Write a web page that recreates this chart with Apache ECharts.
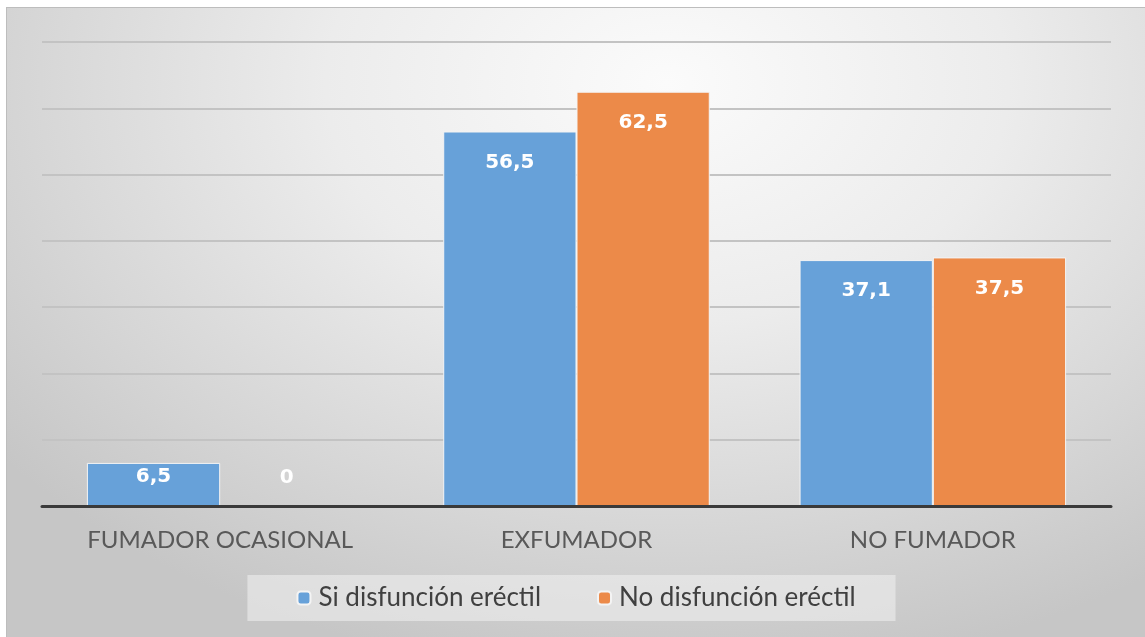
<!DOCTYPE html>
<html>
<head>
<meta charset="utf-8">
<script src="https://cdn.jsdelivr.net/npm/echarts@6/dist/echarts.min.js"></script>
<style>
  html, body { margin: 0; padding: 0; background: #fff; }
  #chart {
    position: absolute; left: 6px; top: 7px; width: 1139px; height: 630px;
    border-top: 1px solid #bdbdbd; border-left: 1px solid #bdbdbd;
    box-sizing: border-box;
    background: radial-gradient(ellipse 75% 95% at 58% 12%, #fbfbfb 0%, #ececec 40%, #d6d6d6 75%, #c6c6c6 100%);
  }
</style>
</head>
<body>
<div id="chart"></div>
<script>
// datos
const categorias = ['FUMADOR OCASIONAL', 'EXFUMADOR', 'NO FUMADOR']
const siDisfuncion = [6.5, 56.5, 37.1]
const noDisfuncion = [0, 62.5, 37.5]
const nombres = ['Si disfunción eréctil', 'No disfunción eréctil']
const colores = ['#67a1d9', '#ec8a49']

const fuente = 'Lato, "Open Sans", sans-serif'

// etiqueta dentro de la barra; barras bajas más arriba
const etiqueta = {
  show: true,
  position: 'insideTop',
  distance: 21,
  color: '#fff',
  fontWeight: 'bold',
  fontSize: 20,
  fontFamily: '"DejaVu Sans", sans-serif',
  formatter: p => String(p.value).replace('.', ',')
}

const armarDatos = valores => valores.map(v => {
  if (v === 0) return { value: v, itemStyle: { borderWidth: 0 }, label: { position: 'insideBottom', distance: 18 } }
  if (v < 10) return { value: v, label: { position: 'insideTop', distance: 4 } }
  return v
})

const chart = echarts.init(document.getElementById('chart'))
chart.setOption({
  animation: false,
  textStyle: { fontFamily: fuente },
  color: colores,
  grid: { left: 35, right: 34, top: 34, bottom: 131 },
  legend: {
    data: nombres,
    left: 'center',
    top: 567,
    padding: [10, 40, 10, 49],
    itemWidth: 13,
    itemHeight: 13,
    itemGap: 56,
    backgroundColor: 'rgba(238,238,238,0.6)',
    textStyle: { fontSize: 26, color: '#404040', fontFamily: fuente, padding: [0, 0, 0, 3] }
  },
  xAxis: {
    type: 'category',
    data: categorias,
    z: 5,
    axisLine: { lineStyle: { color: '#3a3a3a', width: 3 } },
    axisTick: { show: false },
    axisLabel: { color: '#595959', fontSize: 24, margin: 22, fontFamily: fuente }
  },
  yAxis: {
    type: 'value',
    min: 0,
    max: 70,
    interval: 10,
    axisLine: { show: false },
    axisTick: { show: false },
    axisLabel: { show: false },
    splitLine: { lineStyle: { color: '#c3c3c3', width: 2 } }
  },
  series: [
    {
      name: nombres[0],
      type: 'bar',
      data: armarDatos(siDisfuncion),
      barWidth: '37.4%',
      barGap: '0%',
      itemStyle: { borderColor: '#f4f4f4', borderWidth: 1 },
      label: etiqueta
    },
    {
      name: nombres[1],
      type: 'bar',
      data: armarDatos(noDisfuncion),
      barWidth: '37.4%',
      itemStyle: { borderColor: '#f4f4f4', borderWidth: 1 },
      label: etiqueta
    }
  ]
})
</script>
</body>
</html>
